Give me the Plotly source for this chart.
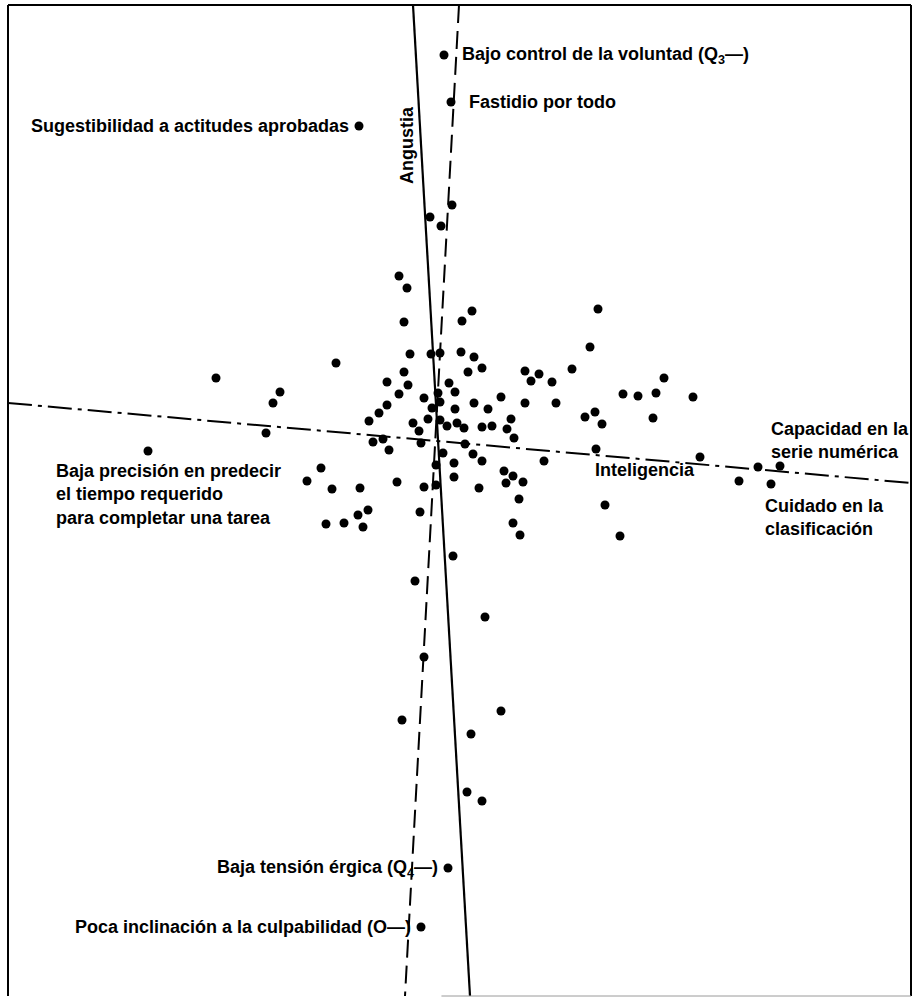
import plotly.graph_objects as go

# Factor scores of the variables (x: Inteligencia direction, y: Angustia direction)
var_x = [0.16, -0.06, 0.05, -0.37, -0.29, -0.32, 0.36, 0.26, 1.62, 1.54,
         -1.00, -2.20, -1.56, -1.63, -0.26, -0.05, 0.04, 0.25, 0.38, 0.32,
         0.46, 0.89, 1.03, 0.95, 1.16, 1.36, -0.32, -0.49, -0.28, -0.37,
         -0.12, 0.13, 0.19, 0.02, 0.04, -0.04, 0.19, -0.49, -0.57, -0.67,
         -0.08, 0.04, 0.11, 0.21, 0.28, -0.23, -0.17, 0.38, 0.52, 0.65,
         0.89, 1.20, 0.46, 0.56, 0.75, 0.71, 0.78, 1.49, 1.59, 1.66,
         1.87, 2.02, 2.20, 2.28, 2.57, 2.17, 1.60, 2.64, 3.22, 3.44,
         3.03, 3.35, 1.69, 1.84, -1.70, -2.88, -0.63, -0.53, -0.47, -0.15,
         0.29, 0.07, 0.00, 0.18, 0.18, 0.37, 0.46, 1.08, -1.15, -1.29,
         -1.04, -0.76, -0.39, -0.12, 0.00, 0.43, 0.68, 0.77, 0.70, 0.87,
         0.83, 0.77, 0.84, -0.68, -0.78, -0.73, -1.10, -0.92, -0.16, 0.17,
         -0.21, 0.49, -0.12, -0.34, 0.65, 0.35, 0.31, 0.46]
var_y = [2.32, 2.20, 2.11, 1.61, 1.49, 1.15, 1.26, 1.16, 1.28, 0.90,
         0.74, 0.59, 0.45, 0.34, 0.83, 0.83, 0.84, 0.85, 0.80, 0.65,
         0.69, 0.66, 0.63, 0.56, 0.55, 0.68, 0.65, 0.55, 0.52, 0.43,
         0.39, 0.54, 0.45, 0.44, 0.35, 0.29, 0.28, 0.32, 0.24, 0.16,
         0.18, 0.17, 0.11, 0.14, 0.09, 0.14, 0.06, 0.34, 0.28, 0.40,
         0.34, 0.34, 0.10, 0.11, 0.18, 0.08, -0.01, 0.20, 0.25, 0.13,
         0.43, 0.41, 0.44, 0.59, 0.40, 0.19, -0.12, -0.20, -0.30, -0.29,
         -0.44, -0.47, -0.68, -0.99, 0.04, -0.14, -0.05, -0.02, -0.13, -0.06,
         -0.07, -0.16, -0.28, -0.26, -0.40, -0.17, -0.24, -0.24, -0.31, -0.44,
         -0.52, -0.51, -0.45, -0.50, -0.48, -0.51, -0.34, -0.39, -0.46, -0.45,
         -0.62, -0.86, -0.98, -0.73, -0.78, -0.90, -0.87, -0.86, -0.75, -1.19,
         -1.44, -1.80, -2.20, -2.83, -2.74, -2.97, -3.55, -3.64]

# Named variables drawn with a label beside the dot
named_text = ["Bajo control de la voluntad (Q<sub>3</sub>—)",
              "Fastidio por todo",
              "Sugestibilidad a actitudes aprobadas",
              "Baja tensión érgica (Q<sub>4</sub>—)",
              "Poca inclinación a la culpabilidad (O—)"]
named_x = [0.08, 0.15, -0.77, 0.12, -0.15]
named_y = [3.82, 3.35, 3.11, -4.31, -4.90]
named_side = ["right", "right", "left", "left", "left"]

# Factor axes: end points across the frame
intel_x = [-4.28, 4.75]
intel_y = [0.34, -0.46]
angus_x = [-0.23, 0.34]
angus_y = [4.32, -5.59]
alt_x = [0.23, -0.31]
alt_y = [4.32, -5.59]

X_RANGE = [-4.28, 4.75]
Y_RANGE = [-5.59, 4.32]

FONT = dict(family="Liberation Sans, Arial, sans-serif", size=18, color="black",
            weight="bold")

fig = go.Figure()

fig.add_trace(go.Scatter(x=intel_x, y=intel_y, mode="lines",
                         line=dict(color="black", width=2, dash="24px,6px,4px,6px"),
                         hoverinfo="skip"))
fig.add_trace(go.Scatter(x=angus_x, y=angus_y, mode="lines",
                         line=dict(color="black", width=2.2),
                         hoverinfo="skip"))
fig.add_trace(go.Scatter(x=alt_x, y=alt_y, mode="lines",
                         line=dict(color="black", width=2, dash="18px,8px"),
                         hoverinfo="skip"))

fig.add_trace(go.Scatter(x=var_x + named_x, y=var_y + named_y, mode="markers",
                         marker=dict(color="black", size=9, line=dict(width=0))))

annotations = []
for t, x, y, side in zip(named_text, named_x, named_y, named_side):
    if side == "right":
        annotations.append(dict(x=x, y=y, text=t, showarrow=False, xanchor="left",
                                yanchor="middle", xshift=16, font=FONT))
    else:
        annotations.append(dict(x=x, y=y, text=t, showarrow=False, xanchor="right",
                                yanchor="middle", xshift=-8, font=FONT))

annotations += [
    dict(x=-0.29, y=2.92, text="Angustia", textangle=-90, showarrow=False,
         xanchor="center", yanchor="middle", font=FONT),
    dict(x=1.57, y=-0.33, text="Inteligencia", showarrow=False,
         xanchor="left", yanchor="middle", font=FONT),
    dict(x=-3.82, y=-0.57,
         text="Baja precisión en predecir<br>el tiempo requerido<br>para completar una tarea",
         showarrow=False, xanchor="left", yanchor="middle", align="left", font=FONT),
    dict(x=3.33, y=-0.03, text="Capacidad en la<br>serie numérica", showarrow=False,
         xanchor="left", yanchor="middle", align="left", font=FONT),
    dict(x=3.27, y=-0.80, text="Cuidado en la<br>clasificación", showarrow=False,
         xanchor="left", yanchor="middle", align="left", font=FONT),
]

# Frame around the diagram
shapes = [
    dict(type="line", xref="paper", yref="paper", x0=0, y0=0, x1=0, y1=1,
         line=dict(color="black", width=2)),
    dict(type="line", xref="paper", yref="paper", x0=0, y0=1, x1=1, y1=1,
         line=dict(color="black", width=2)),
    dict(type="line", xref="paper", yref="paper", x0=1, y0=0, x1=1, y1=1,
         line=dict(color="black", width=2)),
    dict(type="line", xref="paper", yref="paper", x0=0.48, y0=0, x1=1, y1=0,
         line=dict(color="#9a9a9a", width=1)),
]

fig.update_layout(
    width=916, height=997,
    margin=dict(l=8, r=5, t=5, b=1),
    paper_bgcolor="white", plot_bgcolor="white",
    showlegend=False,
    xaxis=dict(range=X_RANGE, visible=False, fixedrange=True),
    yaxis=dict(range=Y_RANGE, visible=False, fixedrange=True),
    annotations=annotations,
    shapes=shapes,
)

fig.write_html("out.html")
